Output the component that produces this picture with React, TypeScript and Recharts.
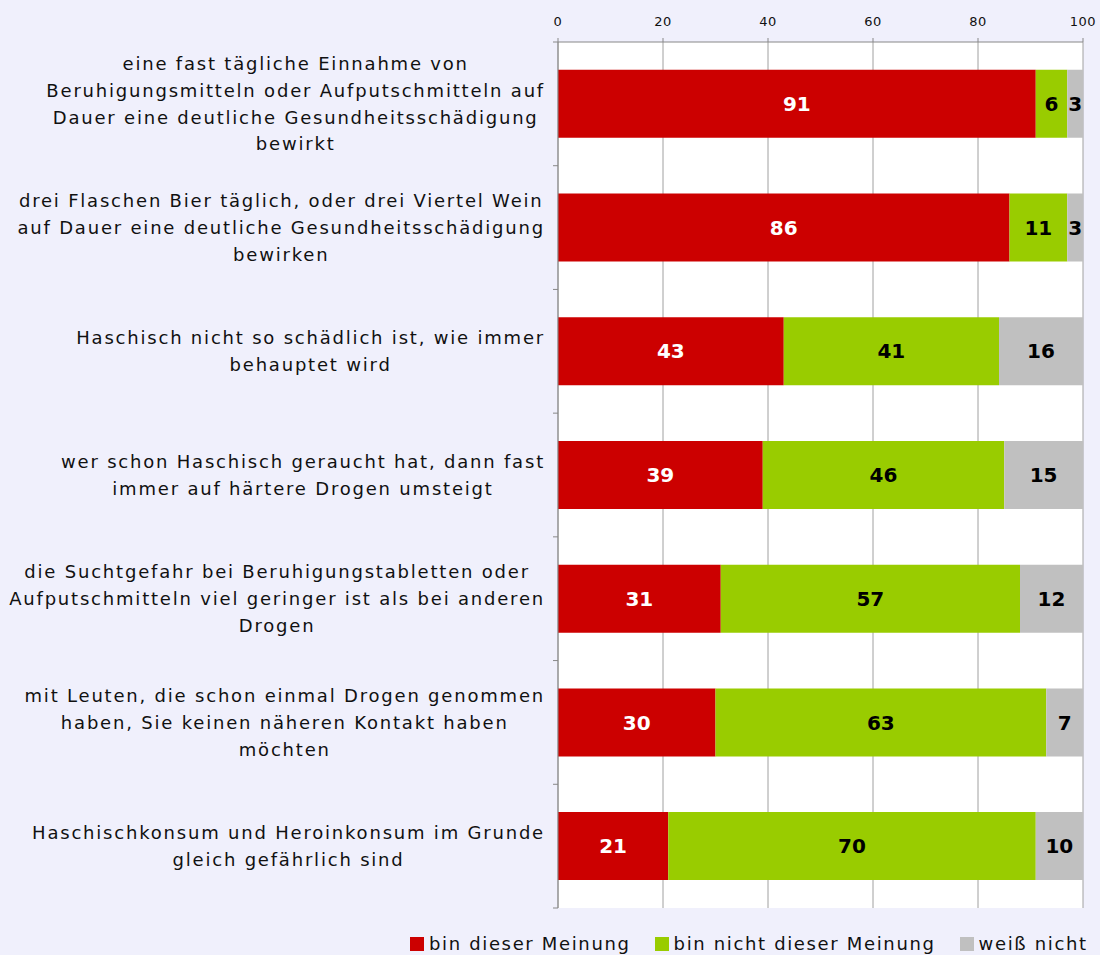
import React from 'react';
import { BarChart, Bar, XAxis, YAxis, CartesianGrid, Legend, LabelList, ReferenceArea } from 'recharts';

const categoryLines: string[][] = [
  ['eine fast tägliche Einnahme von', 'Beruhigungsmitteln oder Aufputschmitteln auf', 'Dauer eine deutliche Gesundheitsschädigung', 'bewirkt'],
  ['drei Flaschen Bier täglich, oder drei Viertel Wein', 'auf Dauer eine deutliche Gesundheitsschädigung', 'bewirken'],
  ['Haschisch nicht so schädlich ist, wie immer', 'behauptet wird'],
  ['wer schon Haschisch geraucht hat, dann fast', 'immer auf härtere Drogen umsteigt'],
  ['die Suchtgefahr bei Beruhigungstabletten oder', 'Aufputschmitteln viel geringer ist als bei anderen', 'Drogen'],
  ['mit Leuten, die schon einmal Drogen genommen', 'haben, Sie keinen näheren Kontakt haben', 'möchten'],
  ['Haschischkonsum und Heroinkonsum im Grunde', 'gleich gefährlich sind'],
];
const categories = categoryLines.map((l) => l.join(' '));
const agree = [91, 86, 43, 39, 31, 30, 21];
const disagree = [6, 11, 41, 46, 57, 63, 70];
const dontKnow = [3, 3, 16, 15, 12, 7, 10];
const seriesNames = ['bin dieser Meinung', 'bin nicht dieser Meinung', 'weiß nicht'];
const xTicks = [0, 20, 40, 60, 80, 100];

const data = categories.map((c, i) => ({ cat: c, a: agree[i], b: disagree[i], c: dontKnow[i] }));

const FONT = 'DejaVu Sans, Verdana, sans-serif';
const COLORS = ['#CC0000', '#99CC00', '#C0C0C0'];
const BG = '#F0F0FC';
const AXIS = '#888888';
const LABEL_SIZE = 18;
const LABEL_LS = 1.8;
const LINE_H = 26.7;
const TEXT_GAP = 13;

let ctx: CanvasRenderingContext2D | null = null;
function measure(t: string) {
  try {
    if (!ctx) {
      const c = document.createElement('canvas');
      ctx = c.getContext('2d');
    }
    if (!ctx) return t.length * 11;
    ctx.font = `${LABEL_SIZE}px "DejaVu Sans"`;
    return ctx.measureText(t).width + LABEL_LS * t.length;
  } catch (e) {
    return t.length * 11;
  }
}

const CategoryTick = (props: any) => {
  const { x, y, payload, index, visibleTicksCount } = props;
  const idx = categories.indexOf(payload.value);
  const lines = idx >= 0 ? categoryLines[idx] : [String(payload.value)];
  const maxW = Math.max(...lines.map((l) => measure(l)));
  const rightEdge = x - TEXT_GAP;
  const cx = rightEdge - maxW / 2;
  const y0 = y - ((lines.length - 1) / 2) * LINE_H;
  const half = payload.offset || 0;
  const isLast = index === (visibleTicksCount ?? categories.length) - 1;
  return (
    <g>
      <line x1={x - 5} x2={x} y1={y - half} y2={y - half} stroke={AXIS} />
      {isLast && <line x1={x - 5} x2={x} y1={y + half} y2={y + half} stroke={AXIS} />}
      {lines.map((ln, i) => (
        <text
          key={i}
          x={cx}
          y={y0 + i * LINE_H}
          dy="0.36em"
          textAnchor="middle"
          fontFamily={FONT}
          fontSize={LABEL_SIZE}
          letterSpacing={LABEL_LS}
          fill="#111"
        >
          {ln}
        </text>
      ))}
    </g>
  );
};

const LegendContent = (props: any) => {
  const { payload } = props;
  return (
    <div style={{ display: 'flex', alignItems: 'center', fontFamily: FONT, fontSize: 18, letterSpacing: 1.65, color: '#111' }}>
      {(payload || []).map((p: any, i: number) => (
        <div key={i} style={{ display: 'flex', alignItems: 'center', marginRight: 24 }}>
          <span style={{ display: 'inline-block', width: 14, height: 14, background: p.color, marginRight: 5 }} />
          <span style={{ whiteSpace: 'nowrap' }}>{p.value}</span>
        </div>
      ))}
    </div>
  );
};

const barLabel = (fill: string) => ({
  fill,
  fontFamily: FONT,
  fontSize: 20,
  fontWeight: 'bold' as const,
});

export default function App() {
  return (
    <div style={{ position: 'absolute', left: 0, top: 0, width: 1100, height: 955, background: BG }}>
      <BarChart
        width={1100}
        height={955}
        data={data}
        layout="vertical"
        margin={{ top: 0, right: 17, bottom: 47, left: 0 }}
        barCategoryGap="22.5%"
      >
        <ReferenceArea x1={0} x2={100} fill="#FFFFFF" fillOpacity={1} stroke="none" zIndex={-500} />
        <CartesianGrid horizontal={false} vertical={true} stroke="#A0A0A0" />
        <XAxis
          type="number"
          orientation="top"
          domain={[0, 100]}
          allowDataOverflow
          ticks={xTicks}
          height={42}
          tickSize={4}
          tickMargin={12}
          axisLine={{ stroke: AXIS }}
          tickLine={{ stroke: AXIS }}
          tick={{ fill: '#111', fontFamily: FONT, fontSize: 13, letterSpacing: 0.5 }}
          interval={0}
        />
        <XAxis
          xAxisId="bottom"
          type="number"
          orientation="bottom"
          domain={[0, 100]}
          allowDataOverflow
          height={0}
          tick={false}
          tickLine={false}
          axisLine={{ stroke: AXIS }}
        />
        <YAxis
          type="category"
          dataKey="cat"
          width={558}
          axisLine={{ stroke: AXIS }}
          tickLine={false}
          tickSize={0}
          tickMargin={0}
          tick={<CategoryTick />}
          interval={0}
        />
        <Legend
          layout="horizontal"
          verticalAlign="middle"
          align="center"
          content={<LegendContent />}
          wrapperStyle={{ top: 933, left: 410, width: 700, height: 22 }}
        />
        <Bar dataKey="a" name={seriesNames[0]} stackId="s" fill={COLORS[0]} isAnimationActive={false}>
          <LabelList dataKey="a" position="center" style={barLabel('#FFFFFF')} />
        </Bar>
        <Bar dataKey="b" name={seriesNames[1]} stackId="s" fill={COLORS[1]} isAnimationActive={false}>
          <LabelList dataKey="b" position="center" style={barLabel('#000000')} />
        </Bar>
        <Bar dataKey="c" name={seriesNames[2]} stackId="s" fill={COLORS[2]} isAnimationActive={false}>
          <LabelList dataKey="c" position="center" style={barLabel('#000000')} />
        </Bar>
      </BarChart>
    </div>
  );
}
